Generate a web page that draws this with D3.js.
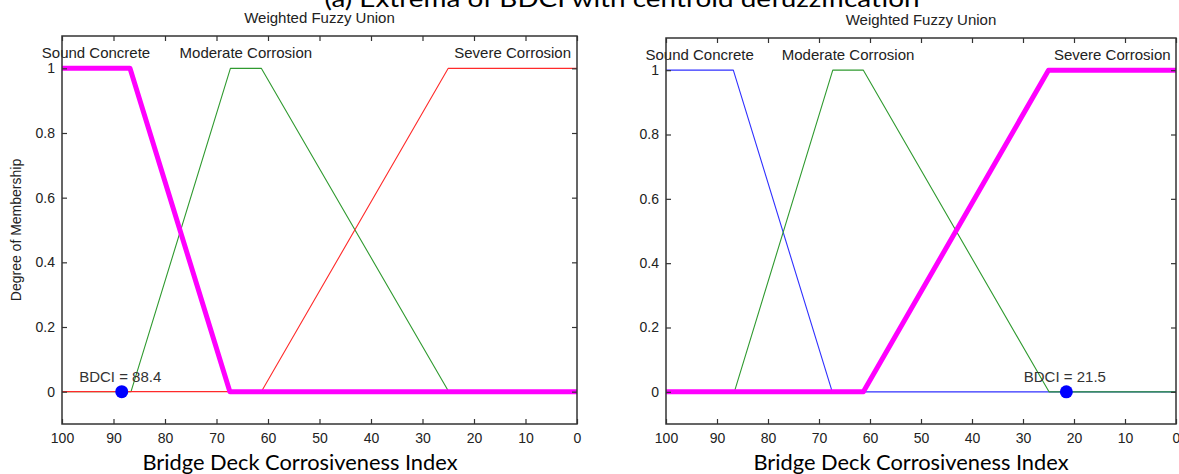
<!DOCTYPE html>
<html>
<head>
<meta charset="utf-8">
<script src="https://cdn.jsdelivr.net/npm/d3@7"></script>
<style>
  html, body { margin: 0; padding: 0; background: #fff; }
  svg { display: block; }
</style>
</head>
<body>
<script>
// membership functions (same FIS in both panels)
const soundX = [100, 86.8, 67.4, 0];
const soundY = [1, 1, 0, 0];
const moderateX = [100, 86.6, 67.3, 61.3, 24.9, 0];
const moderateY = [0, 0, 1, 1, 0, 0];
const severeX = [100, 61.3, 25, 0];
const severeY = [0, 0, 1, 1];
const mfNames = ['Sound Concrete', 'Moderate Corrosion', 'Severe Corrosion'];

const xTicks = [100, 90, 80, 70, 60, 50, 40, 30, 20, 10, 0];
const yTicks = [0, 0.2, 0.4, 0.6, 0.8, 1];
const bdci = [88.4, 21.5];

const mainTitle = '(a)  Extrema of BDCI with centroid defuzzification';
const panelTitle = 'Weighted Fuzzy Union';
const xLabel = 'Bridge Deck Corrosiveness Index';
const yLabel = 'Degree of Membership';

const W = 1179, H = 474;
const svg = d3.select('body').append('svg')
  .attr('width', W)
  .attr('height', H);

const mfs = [
  {name: mfNames[0], xs: soundX, ys: soundY},
  {name: mfNames[1], xs: moderateX, ys: moderateY},
  {name: mfNames[2], xs: severeX, ys: severeY}
];

/**
 * @param {Object} p panel layout + which mf is highlighted
 */
function drawPanel(p) {
  const x = d3.scaleLinear().domain([100, 0]).range([p.left, p.right]);
  const y = d3.scaleLinear().domain([-0.1, 1.1]).range([p.bottom, p.top]);
  const g = svg.append('g');
  const font = '"Liberation Sans", Arial, sans-serif';

  g.append('text')
    .attr('x', (p.left + p.right) / 2)
    .attr('y', p.top - 13)
    .attr('text-anchor', 'middle')
    .style('font-family', font)
    .style('font-size', '15px')
    .style('fill', '#222')
    .text(panelTitle);

  const line = d3.line()
    .x(d => x(d[0]))
    .y(d => y(d[1]));

  // thin lines first, in the order they were plotted
  p.order.forEach(i => {
    const mf = mfs[i];
    const pts = mf.xs.map((v, k) => [v, mf.ys[k]]);
    g.append('path')
      .attr('d', line(pts))
      .attr('fill', 'none')
      .attr('stroke', i === p.highlight ? '#ff00ff' : p.colors[i])
      .attr('stroke-width', i === p.highlight ? 5 : 1.1)
      .attr('stroke-linejoin', 'round');
  });

  // mf labels centred over the plateau
  mfs.forEach(mf => {
    const top = mf.xs.filter((v, k) => mf.ys[k] === 1);
    const cx = (d3.min(top) + d3.max(top)) / 2;
    g.append('text')
      .attr('x', x(cx))
      .attr('y', p.top + 22)
      .attr('text-anchor', 'middle')
      .style('font-family', font)
      .style('font-size', '15px')
      .style('fill', '#222')
      .text(mf.name);
  });

  // defuzzified value
  g.append('circle')
    .attr('cx', x(p.value))
    .attr('cy', y(0))
    .attr('r', 6.5)
    .attr('fill', '#0000ff');
  g.append('text')
    .attr('x', x(p.value) - 1.5)
    .attr('y', y(0) - 10)
    .attr('text-anchor', 'middle')
    .style('font-family', font)
    .style('font-size', '15px')
    .style('fill', '#333')
    .text(`BDCI = ${p.value}`);

  // axes, ticks pointing inward like matlab
  const xb = g.append('g')
    .attr('transform', `translate(0,${p.bottom})`)
    .call(d3.axisBottom(x).tickValues(xTicks).tickSizeInner(-5).tickSizeOuter(0).tickPadding(9));
  g.append('g')
    .attr('transform', `translate(0,${p.top})`)
    .call(d3.axisTop(x).tickValues(xTicks).tickSizeInner(-5).tickSizeOuter(0).tickFormat(''));
  const yl = g.append('g')
    .attr('transform', `translate(${p.left},0)`)
    .call(d3.axisLeft(y).tickValues(yTicks).tickSizeInner(-5).tickSizeOuter(0).tickPadding(7).tickFormat(d => String(d)));
  g.append('g')
    .attr('transform', `translate(${p.right},0)`)
    .call(d3.axisRight(y).tickValues(yTicks).tickSizeInner(-5).tickSizeOuter(0).tickFormat(''));

  g.selectAll('.domain').remove();
  g.selectAll('.tick line').attr('stroke', '#333').attr('stroke-width', 1.2);
  [xb, yl].forEach(a => a.selectAll('text')
    .style('font-family', font)
    .style('font-size', '14px')
    .attr('fill', '#222'));

  g.append('rect')
    .attr('x', p.left)
    .attr('y', p.top)
    .attr('width', p.right - p.left)
    .attr('height', p.bottom - p.top)
    .attr('fill', 'none')
    .attr('stroke', '#333')
    .attr('stroke-width', 1.5);

  g.append('text')
    .attr('x', p.xLabelX)
    .attr('y', 470)
    .attr('text-anchor', 'middle')
    .attr('textLength', 315)
    .attr('lengthAdjust', 'spacingAndGlyphs')
    .style('font-family', 'Lato, "Open Sans", sans-serif')
    .style('font-size', '21px')
    .style('fill', '#000')
    .text(xLabel);

  if (p.showYLabel) {
    g.append('text')
      .attr('transform', `translate(21,${(y(0) + y(1)) / 2}) rotate(-90)`)
      .attr('text-anchor', 'middle')
      .style('font-family', font)
      .style('font-size', '14px')
      .style('fill', '#222')
      .text(yLabel);
  }
}

drawPanel({
  left: 62, right: 577, top: 36, bottom: 424,
  order: [1, 2, 0], highlight: 0,
  colors: ['#0000ff', '#2f9a2f', '#ff2a2a'],
  value: bdci[0], xLabelX: 300, showYLabel: true
});

drawPanel({
  left: 666, right: 1176, top: 38, bottom: 424,
  order: [0, 1, 2], highlight: 2,
  colors: ['#3030ff', '#2f9a2f', '#ff2a2a'],
  value: bdci[1], xLabelX: 911, showYLabel: false
});

svg.append('text')
  .attr('x', 622)
  .attr('y', 7)
  .attr('text-anchor', 'middle')
  .attr('textLength', 595)
  .attr('lengthAdjust', 'spacingAndGlyphs')
  .style('font-family', 'Lato, "Open Sans", sans-serif')
  .style('font-size', '24px')
  .style('fill', '#000')
  .text(mainTitle);
</script>
</body>
</html>
